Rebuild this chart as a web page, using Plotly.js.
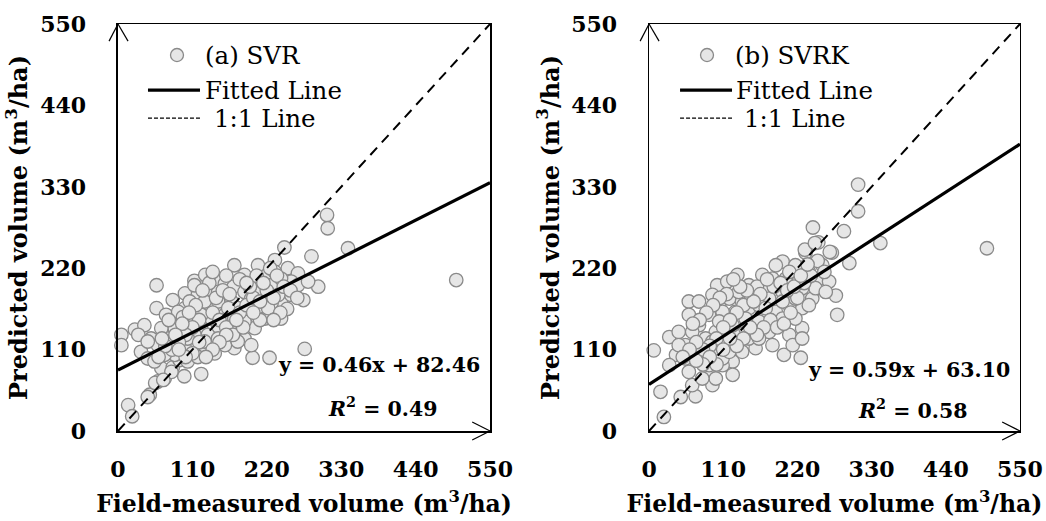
<!DOCTYPE html>
<html>
<head>
<meta charset="utf-8">
<script src="https://cdn.plot.ly/plotly-3.0.1.min.js"></script>
<style>html,body{margin:0;padding:0;background:#fff;}#chart{width:1046px;height:521px;}</style>
</head>
<body>
<div id="chart"></div>
<script>
// ---- Data ----
const svrMeasured = [309,310,286,172,246,232,57,296,276,224,199,123,98,5,5,25,39,15,47,59,69,64,81,91,57,81,113,129,148,158,171,99,118,136,99,71,49,34,44,74,89,103,118,133,148,168,187,202,217,232,251,266,256,274,241,227,207,241,217,202,187,172,158,143,128,113,99,84,148,163,177,123,113,59,30,133,103,158,138,123,89,79,69,192,177,212,227,241,266,256,281,207,187,148,106,84,64,44,96,128,113,168,177,197,148,128,103,118,54,79,163,222,237,197,172,187,500,21,44,55,67,340,
  140,150,160,170,180,190,200,210,220,230,120,110,100,90,80,70,60,145,155,165,135,125,115,105,95,85,75,65,195,205,215,225,235,245,255,265,250,240,230,210,200,185,175,160,150,140,130,120,110,100,90,180,190,160,140];
const svrPredicted = [292,274,236,224,248,231,197,195,111,99,99,77,74,130,116,137,143,35,49,67,71,85,86,96,166,177,203,211,204,199,195,186,184,191,166,157,125,107,98,125,146,148,161,170,175,175,188,202,211,215,220,213,202,177,175,173,166,152,152,139,125,112,116,105,109,116,112,103,141,148,139,139,130,116,130,130,125,157,152,157,161,121,103,157,166,188,197,206,197,184,202,224,211,188,175,139,139,121,154,175,197,134,121,116,125,121,94,100,94,80,166,166,184,179,152,148,204,20,46,65,69,247,
  160,150,140,130,160,170,180,175,190,180,150,140,130,120,110,115,100,180,190,185,200,190,170,160,145,130,150,125,195,210,200,220,210,195,190,180,165,160,150,150,160,140,150,130,120,110,100,120,105,100,110,205,200,210,215];

const svrkMeasured = [310,310,289,243,251,343,277,279,297,271,232,198,217,257,252,267,242,227,227,208,225,200,7,17,22,47,69,64,94,89,59,74,101,116,131,148,168,183,30,44,54,40,30,74,89,104,119,138,158,173,198,208,188,168,148,128,114,99,84,69,99,114,128,143,163,178,183,158,138,124,109,124,99,79,59,54,79,198,217,237,217,203,222,237,208,188,178,133,94,109,59,64,44,148,163,133,114,94,198,163,143,124,104,247,262,227,173,109,89,119,213,227,501,231,246,268,
  150,160,140,130,120,110,100,90,80,70,180,190,200,210,220,230,240,250,260,170,160,150,140,130,120,110,100,90,80,70,60,50,185,195,205,215,225,235,175,165,155,145,135,125,115,105,95,85,75,65];
const svrkPredicted = [333,297,270,275,255,254,183,157,227,241,241,229,224,224,206,202,179,166,139,130,99,103,109,53,19,46,47,62,62,80,175,175,197,202,211,197,211,206,127,134,116,103,89,143,157,170,179,175,179,188,188,170,161,157,166,161,148,134,125,107,107,116,130,139,148,134,116,112,107,94,89,76,71,71,80,98,98,152,152,170,179,206,202,215,215,224,179,188,184,161,157,134,116,125,125,148,134,121,175,170,152,143,148,193,188,193,166,98,89,107,116,125,247,245,254,242,
  185,195,170,160,150,140,125,115,110,120,150,140,145,160,180,200,210,230,215,140,130,140,125,115,125,110,90,100,90,95,110,100,195,200,190,195,210,225,205,185,175,190,195,205,185,180,170,160,150,145];

const panelNames = ["(a) SVR", "(b) SVRK"];
const slopes = [0.46, 0.59];
const intercepts = [82.46, 63.10];
const r2Values = [0.49, 0.58];
const tickValues = [0, 110, 220, 330, 440, 550];
const lineEnds = [0, 550];
const xTitle = "Field-measured volume (m<sup>3</sup>/ha)";
const yTitle = "Predicted volume (m<sup>3</sup>/ha)";

// ---- Styling ----
const FONT = "DejaVu Serif";
const markerStyle = {size: 13.5, color: '#e6e6e6', line: {color: '#8a8a8a', width: 1.3}};

const measured = [svrMeasured, svrkMeasured];
const predicted = [svrPredicted, svrkPredicted];
const traces = [];
for (let p = 0; p < 2; p++) {
  const xa = p === 0 ? 'x' : 'x2';
  const ya = p === 0 ? 'y' : 'y2';
  traces.push({type: 'scatter', mode: 'markers', x: measured[p], y: predicted[p],
    xaxis: xa, yaxis: ya, marker: markerStyle, name: panelNames[p], showlegend: false,
    cliponaxis: false, hoverinfo: 'x+y'});
  traces.push({type: 'scatter', mode: 'lines', x: lineEnds, y: lineEnds, xaxis: xa, yaxis: ya,
    line: {color: '#000', width: 2, dash: '10px,7px'}, name: '1:1 Line', showlegend: false});
  traces.push({type: 'scatter', mode: 'lines', x: lineEnds,
    y: lineEnds.map(v => slopes[p] * v + intercepts[p]), xaxis: xa, yaxis: ya,
    line: {color: '#000', width: 3.2}, name: 'Fitted Line', showlegend: false});
}

function xAxis(domain, anchor) {
  return {domain: domain, anchor: anchor, range: [0, 550], tickvals: tickValues, ticks: '',
    showgrid: false, zeroline: false, showline: true, mirror: true, linecolor: '#000', linewidth: 1.5,
    ticklabelstandoff: 18, tickfont: {family: FONT, size: 22, color: '#000', weight: 'bold'},
    title: {text: xTitle, standoff: 14, font: {family: FONT, size: 23.5, color: '#000', weight: 'bold'}},
    automargin: false, fixedrange: true};
}
function yAxis(domain, anchor) {
  return {domain: domain, anchor: anchor, range: [0, 550], tickvals: tickValues, ticks: '',
    showgrid: false, zeroline: false, showline: true, mirror: true, linecolor: '#000', linewidth: 1.5,
    ticklabelstandoff: 26, tickfont: {family: FONT, size: 22, color: '#000', weight: 'bold'},
    title: {text: yTitle, standoff: 5, font: {family: FONT, size: 24, color: '#000', weight: 'bold'}},
    automargin: false, fixedrange: true};
}

const shapes = [];
const annotations = [];
const legendPos = [
  {mx: 0.1586, tx: 0.2285, lx0: 0.0806, lx1: 0.2204, ftx: 0.2285, dtx: 0.2527},
  {mx: 0.1563, tx: 0.2264, lx0: 0.0836, lx1: 0.2237, ftx: 0.2290, dtx: 0.2507}
];
const eqPos = [{ey: 0.162, ry: 0.059}, {ey: 0.150, ry: 0.052}];
for (let p = 0; p < 2; p++) {
  const xr = p === 0 ? 'x domain' : 'x2 domain';
  const yr = p === 0 ? 'y domain' : 'y2 domain';
  const L = legendPos[p];
  // axis arrowheads
  shapes.push({type: 'line', xref: xr, yref: yr, x0: -0.024, y0: 0.958, x1: 0, y1: 1, line: {color: '#000', width: 1.2}});
  shapes.push({type: 'line', xref: xr, yref: yr, x0: 0.027, y0: 0.958, x1: 0, y1: 1, line: {color: '#000', width: 1.2}});
  shapes.push({type: 'line', xref: xr, yref: yr, x0: 0.952, y0: 0.022, x1: 1, y1: 0, line: {color: '#000', width: 1.2}});
  shapes.push({type: 'line', xref: xr, yref: yr, x0: 0.952, y0: -0.022, x1: 1, y1: 0, line: {color: '#000', width: 1.2}});
  // legend symbols
  shapes.push({type: 'circle', xref: xr, yref: yr, x0: L.mx - 0.0175, x1: L.mx + 0.0175, y0: 0.9238 - 0.016, y1: 0.9238 + 0.016,
    fillcolor: '#e6e6e6', line: {color: '#8a8a8a', width: 1.3}});
  shapes.push({type: 'line', xref: xr, yref: yr, x0: L.lx0, x1: L.lx1, y0: 0.8378, y1: 0.8378, line: {color: '#000', width: 3.2}});
  shapes.push({type: 'line', xref: xr, yref: yr, x0: L.lx0, x1: L.lx1, y0: 0.769, y1: 0.769, line: {color: '#000', width: 1.3, dash: '4px,2px'}});
  const lf = {family: FONT, size: 24.5, color: '#000'};
  annotations.push({xref: xr, yref: yr, x: L.tx, y: 0.9238, text: panelNames[p], showarrow: false, xanchor: 'left', yanchor: 'middle', font: lf});
  annotations.push({xref: xr, yref: yr, x: L.ftx, y: 0.8378, text: 'Fitted Line', showarrow: false, xanchor: 'left', yanchor: 'middle', font: lf});
  annotations.push({xref: xr, yref: yr, x: L.dtx, y: 0.769, text: '1:1 Line', showarrow: false, xanchor: 'left', yanchor: 'middle', font: lf});
  // equation and R2
  const bf = {family: FONT, size: 20.5, color: '#000', weight: 'bold'};
  annotations.push({xref: xr, yref: yr, x: 0.978, y: eqPos[p].ey, xanchor: 'right', yanchor: 'middle', showarrow: false,
    text: 'y = ' + slopes[p].toFixed(2) + 'x + ' + intercepts[p].toFixed(2), font: bf});
  annotations.push({xref: xr, yref: yr, x: 0.71, y: eqPos[p].ry, xanchor: 'center', yanchor: 'middle', showarrow: false,
    text: '<i>R</i><sup>2</sup> = ' + r2Values[p].toFixed(2), font: bf});
}

const layout = {
  width: 1046, height: 521,
  margin: {l: 0, r: 0, t: 0, b: 0},
  paper_bgcolor: '#fff', plot_bgcolor: '#fff',
  showlegend: false,
  xaxis: xAxis([0.1128, 0.4685], 'y'),
  yaxis: yAxis([0.1727, 0.9539], 'x'),
  xaxis2: xAxis([0.6205, 0.9751], 'y2'),
  yaxis2: yAxis([0.1727, 0.9539], 'x2'),
  shapes: shapes,
  annotations: annotations,
  font: {family: FONT, color: '#000'}
};

Plotly.newPlot('chart', traces, layout, {displayModeBar: false, staticPlot: true});
</script>
</body>
</html>
